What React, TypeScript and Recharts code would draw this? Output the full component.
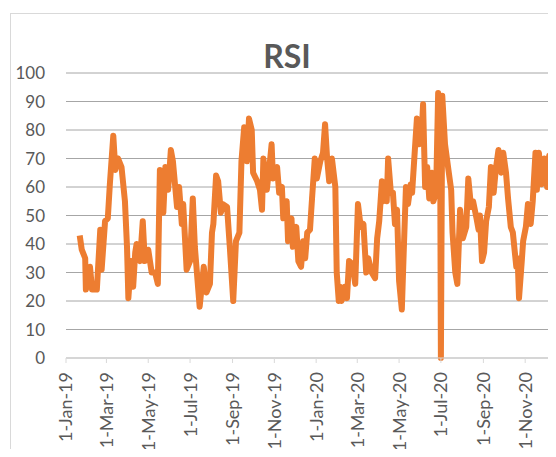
import React from "react";
import { CartesianGrid, Line, LineChart, XAxis, YAxis } from "recharts";

const dates = [
  "2019-01-21", "2019-01-24", "2019-01-29", "2019-01-30", "2019-02-05", "2019-02-08", "2019-02-15",
  "2019-02-20", "2019-02-22", "2019-02-27", "2019-03-03", "2019-03-06", "2019-03-11", "2019-03-14",
  "2019-03-18", "2019-03-23", "2019-03-28", "2019-03-31", "2019-04-02", "2019-04-06", "2019-04-09",
  "2019-04-12", "2019-04-14", "2019-04-19", "2019-04-23", "2019-04-26", "2019-05-01", "2019-05-06",
  "2019-05-11", "2019-05-15", "2019-05-18", "2019-05-23", "2019-05-26", "2019-05-30", "2019-06-03",
  "2019-06-06", "2019-06-12", "2019-06-15", "2019-06-19", "2019-06-21", "2019-06-26", "2019-07-01",
  "2019-07-05", "2019-07-08", "2019-07-15", "2019-07-21", "2019-07-25", "2019-07-30", "2019-08-02",
  "2019-08-04", "2019-08-08", "2019-08-11", "2019-08-15", "2019-08-18", "2019-08-24", "2019-08-28",
  "2019-09-02", "2019-09-06", "2019-09-11", "2019-09-14", "2019-09-18", "2019-09-22", "2019-09-25",
  "2019-09-29", "2019-10-01", "2019-10-07", "2019-10-11", "2019-10-14", "2019-10-16", "2019-10-21",
  "2019-10-26", "2019-10-28", "2019-10-30", "2019-11-05", "2019-11-08", "2019-11-12", "2019-11-14",
  "2019-11-19", "2019-11-21", "2019-11-26", "2019-11-28", "2019-12-03", "2019-12-06", "2019-12-10",
  "2019-12-13", "2019-12-16", "2019-12-19", "2019-12-23", "2019-12-26", "2019-12-30", "2020-01-02",
  "2020-01-07", "2020-01-11", "2020-01-14", "2020-01-17", "2020-01-20", "2020-01-24", "2020-01-29",
  "2020-01-31", "2020-02-03", "2020-02-05", "2020-02-07", "2020-02-12", "2020-02-15", "2020-02-18",
  "2020-02-23", "2020-02-27", "2020-03-02", "2020-03-06", "2020-03-10", "2020-03-14", "2020-03-17",
  "2020-03-22", "2020-03-27", "2020-03-30", "2020-04-02", "2020-04-06", "2020-04-08", "2020-04-11",
  "2020-04-13", "2020-04-15", "2020-04-19", "2020-04-22", "2020-04-25", "2020-04-28", "2020-05-01",
  "2020-05-05", "2020-05-08", "2020-05-11", "2020-05-14", "2020-05-18", "2020-05-20", "2020-05-24",
  "2020-05-27", "2020-05-30", "2020-06-03", "2020-06-05", "2020-06-08", "2020-06-11", "2020-06-14",
  "2020-06-18", "2020-06-20", "2020-06-24", "2020-06-27", "2020-06-30", "2020-07-01", "2020-07-03",
  "2020-07-07", "2020-07-12", "2020-07-16", "2020-07-18", "2020-07-22", "2020-07-25", "2020-07-29",
  "2020-08-02", "2020-08-07", "2020-08-10", "2020-08-14", "2020-08-17", "2020-08-22", "2020-08-25",
  "2020-08-27", "2020-08-30", "2020-09-02", "2020-09-05", "2020-09-09", "2020-09-12", "2020-09-16",
  "2020-09-19", "2020-09-23", "2020-09-27", "2020-09-30", "2020-10-04", "2020-10-07", "2020-10-11",
  "2020-10-14", "2020-10-19", "2020-10-21", "2020-10-23", "2020-10-27", "2020-10-29", "2020-11-02",
  "2020-11-05", "2020-11-09", "2020-11-12", "2020-11-16", "2020-11-18", "2020-11-21", "2020-11-25",
  "2020-11-29", "2020-12-03", "2020-12-06", "2020-12-10", "2020-12-13", "2020-12-16", "2020-12-20",
  "2020-12-24", "2020-12-30",
];

const rsi = [
  43, 38, 35, 24, 32, 24, 24,
  45, 31, 48, 49, 61, 78, 66,
  70, 67, 55, 39, 21, 34, 25,
  37, 40, 34, 48, 34, 38, 30,
  30, 26, 66, 51, 67, 59, 73,
  69, 53, 60, 47, 54, 31, 34,
  56, 39, 18, 32, 23, 26, 44,
  47, 64, 62, 51, 54, 53, 39,
  20, 41, 44, 69, 81, 69, 84,
  80, 65, 62, 59, 52, 70, 59,
  70, 75, 63, 67, 58, 60, 49,
  55, 41, 49, 39, 46, 34, 32,
  41, 35, 44, 45, 56, 70, 63,
  69, 72, 82, 70, 62, 70, 60,
  30, 20, 25, 20, 25, 21, 34,
  33, 26, 54, 46, 47, 30, 35,
  30, 28, 42, 48, 62, 55, 61,
  55, 70, 58, 58, 47, 52, 27,
  17, 39, 60, 54, 61, 58, 73,
  84, 75, 79, 89, 60, 67, 56,
  65, 55, 58, 93, 69, 0, 92,
  75, 66, 59, 44, 30, 26, 52,
  42, 46, 63, 53, 55, 49, 45,
  50, 34, 37, 48, 53, 67, 58,
  66, 73, 65, 72, 65, 56, 46,
  44, 32, 35, 21, 34, 41, 46,
  54, 47, 55, 72, 59, 72, 61,
  70, 60, 71, 58, 65, 48, 53,
  59, 55,
];

const tickDates = [
  "2019-01-01", "2019-03-01", "2019-05-01", "2019-07-01", "2019-09-01", "2019-11-01",
  "2020-01-01", "2020-03-01", "2020-05-01", "2020-07-01", "2020-09-01", "2020-11-01",
];
const tickLabels = [
  "1-Jan-19", "1-Mar-19", "1-May-19", "1-Jul-19", "1-Sep-19", "1-Nov-19",
  "1-Jan-20", "1-Mar-20", "1-May-20", "1-Jul-20", "1-Sep-20", "1-Nov-20",
];
const yTicks = [0, 10, 20, 30, 40, 50, 60, 70, 80, 90, 100];

const START = Date.parse("2019-01-01");
const toDay = (s: string) => (Date.parse(s) - START) / 86400000;
const END_DAY = toDay("2021-01-01");

const data = dates.map((d, i) => ({ day: toDay(d), rsi: rsi[i] }));

const FONT = "Lato, 'Open Sans', sans-serif";
const TEXT = "#595959";

function DateTick(props: any) {
  const { x, y, index } = props;
  return (
    <g transform={`translate(${x},${y})`}>
      <text
        transform="rotate(-90)"
        textAnchor="end"
        dy="0.36em"
        fill={TEXT}
        fontSize={18}
        fontFamily={FONT}
      >
        {tickLabels[index]}
      </text>
    </g>
  );
}

export default function App() {
  return (
    <div
      style={{
        position: "relative",
        width: 556,
        height: 457,
        margin: -8,
        overflow: "hidden",
        background: "#fff",
        fontFamily: FONT,
      }}
    >
      <div
        style={{
          position: "absolute",
          left: 10,
          top: 13,
          width: 600,
          height: 500,
          border: "1px solid #d9d9d9",
        }}
      />
      <div
        style={{
          position: "absolute",
          left: 0,
          top: 40,
          width: 574,
          textAlign: "center",
          fontSize: 32,
          lineHeight: "32px",
          fontWeight: 700,
          color: TEXT,
        }}
      >
        RSI
      </div>
      <div style={{ position: "absolute", left: 0, top: 0 }}>
        <LineChart width={600} height={457} data={data} margin={{ top: 73, right: 33, bottom: 0, left: 0 }}>
          <CartesianGrid vertical={false} stroke="#a6a6a6" />
          <XAxis
            dataKey="day"
            type="number"
            domain={[0, END_DAY]}
            ticks={tickDates.map(toDay)}
            interval={0}
            tick={<DateTick />}
            tickSize={5}
            tickMargin={9}
            tickLine={{ stroke: "#d9d9d9" }}
            axisLine={{ stroke: "#d9d9d9" }}
            height={99}
          />
          <YAxis
            domain={[0, 100]}
            ticks={yTicks}
            width={66}
            axisLine={false}
            tickLine={false}
            tickSize={0}
            tickMargin={21}
            tick={{ fill: TEXT, fontSize: 17, fontFamily: FONT }}
          />
          <Line
            type="linear"
            dataKey="rsi"
            stroke="#ED7D31"
            strokeWidth={6}
            strokeLinejoin="round"
            dot={false}
            isAnimationActive={false}
          />
        </LineChart>
      </div>
    </div>
  );
}
